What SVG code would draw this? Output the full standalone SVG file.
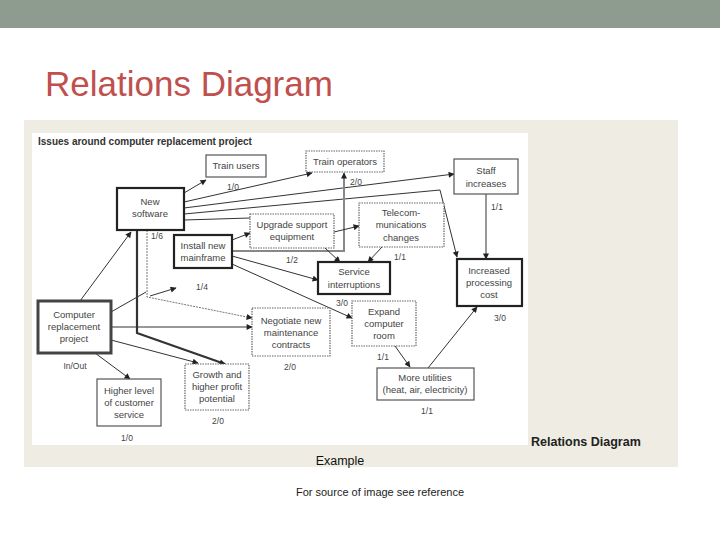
<svg xmlns="http://www.w3.org/2000/svg" width="720" height="540" viewBox="0 0 720 540">
<defs>
<marker id="a" viewBox="0 0 10 10" refX="9" refY="5" markerWidth="8" markerHeight="6" markerUnits="userSpaceOnUse" orient="auto"><path d="M0,0L10,5L0,10z" fill="#222"/></marker>
<style>
.b{fill:#fff;stroke:#555;stroke-width:1.2}
.k{fill:#fff;stroke:#222;stroke-width:2.2}
.d{fill:#fff;stroke:#666;stroke-width:1.2;stroke-dasharray:1.5 1}
.n{font-family:"Liberation Sans",Arial,sans-serif;font-size:9.5px;fill:#444;text-anchor:middle}
.l{font-family:"Liberation Sans",Arial,sans-serif;font-size:8.5px;fill:#444;text-anchor:middle}
.c line,.c polyline{stroke:#333;stroke-width:1;fill:none;marker-end:url(#a)}
</style>
</defs>
<rect width="720" height="540" fill="#fff"/>
<rect width="720" height="28" fill="#8d9c8f"/>
<text x="45" y="96" font-size="35" fill="#c0504d" font-family="Liberation Sans,Arial,sans-serif">Relations Diagram</text>
<rect x="24" y="120" width="654" height="347" fill="#efede3"/>
<rect x="32" y="133" width="496" height="312" fill="#fff"/>
<text x="38" y="145" font-size="10" font-weight="bold" fill="#333" font-family="Liberation Sans,Arial,sans-serif">Issues around computer replacement project</text>
<g class="c">
<line x1="184" y1="193" x2="206" y2="180"/>
<line x1="184" y1="202" x2="312" y2="173"/>
<line x1="184" y1="208" x2="454" y2="174"/>
<polyline points="184,214 440,190 457,257"/>
<line x1="184" y1="220" x2="250" y2="218" style="marker-end:none"/>
<line x1="80" y1="301" x2="131" y2="232"/>
<polyline points="137,230 137,333 225,364" style="stroke-width:2.2"/>
<polyline points="147,230 147,297 252,318" style="stroke:#777;stroke-dasharray:2 1"/>
<line x1="150" y1="296" x2="176" y2="288"/>
<line x1="232" y1="240" x2="250" y2="233"/>
<line x1="232" y1="256" x2="318" y2="280"/>
<line x1="232" y1="264" x2="352" y2="318"/>
<polyline points="232,251 344,251 344,173" style="stroke:#888;stroke-width:2"/>
<line x1="325" y1="248" x2="340" y2="262"/>
<line x1="334" y1="232" x2="359" y2="226"/>
<line x1="382" y1="247" x2="368" y2="262"/>
<line x1="486" y1="194" x2="486" y2="259"/>
<line x1="428" y1="368" x2="477" y2="307"/>
<line x1="395" y1="346" x2="410" y2="367"/>
<line x1="111" y1="327" x2="252" y2="327"/>
<line x1="111" y1="340" x2="198" y2="363"/>
<line x1="95" y1="353" x2="130" y2="379"/>
<line x1="111" y1="312" x2="146" y2="292" style="marker-end:none"/>
</g>
<g id="train-users"><rect class="b" x="206" y="155" width="60" height="22"/><text class="n" x="236" y="169">Train users</text></g>
<g id="train-operators"><rect class="d" x="306" y="151" width="78" height="21"/><text class="n" x="345" y="165">Train operators</text></g>
<g id="staff"><rect class="b" x="454" y="159" width="64" height="35"/><text class="n" x="486" y="174">Staff</text><text class="n" x="486" y="187">increases</text></g>
<g id="new-software"><rect class="k" x="117" y="188" width="67" height="42"/><text class="n" x="150" y="205">New</text><text class="n" x="150" y="217">software</text></g>
<g id="upgrade"><rect class="d" x="250" y="214" width="84" height="34"/><text class="n" x="292" y="228">Upgrade support</text><text class="n" x="292" y="240">equipment</text></g>
<g id="telecom"><rect class="d" x="359" y="203" width="85" height="44"/><text class="n" x="401" y="216">Telecom-</text><text class="n" x="401" y="228">munications</text><text class="n" x="401" y="241">changes</text></g>
<g id="mainframe"><rect class="k" x="174" y="235" width="58" height="33"/><text class="n" x="203" y="249">Install new</text><text class="n" x="203" y="261">mainframe</text></g>
<g id="service"><rect class="k" x="318" y="262" width="72" height="32"/><text class="n" x="354" y="275">Service</text><text class="n" x="354" y="288">interruptions</text></g>
<g id="cost"><rect class="k" x="457" y="259" width="65" height="47"/><text class="n" x="489" y="274">Increased</text><text class="n" x="489" y="286">processing</text><text class="n" x="489" y="298">cost</text></g>
<g id="crp"><rect x="38" y="301" width="73" height="52" fill="#fff" stroke="#444" stroke-width="3"/><rect x="40.5" y="303.5" width="68" height="47" fill="none" stroke="#fff" stroke-width="1"/><text class="n" x="74" y="318">Computer</text><text class="n" x="74" y="330">replacement</text><text class="n" x="74" y="342">project</text></g>
<g id="negotiate"><rect class="d" x="252" y="308" width="78" height="48"/><text class="n" x="291" y="324">Negotiate new</text><text class="n" x="291" y="336">maintenance</text><text class="n" x="291" y="348">contracts</text></g>
<g id="expand"><rect class="d" x="352" y="301" width="64" height="45"/><text class="n" x="384" y="315">Expand</text><text class="n" x="384" y="327">computer</text><text class="n" x="384" y="339">room</text></g>
<g id="growth"><rect class="d" x="185" y="364" width="64" height="46"/><text class="n" x="217" y="378">Growth and</text><text class="n" x="217" y="390">higher profit</text><text class="n" x="217" y="402">potential</text></g>
<g id="higher"><rect class="b" x="97" y="379" width="64" height="47"/><text class="n" x="129" y="394">Higher level</text><text class="n" x="129" y="406">of customer</text><text class="n" x="129" y="418">service</text></g>
<g id="utilities"><rect class="b" x="377" y="368" width="97" height="32"/><text class="n" x="425" y="381">More utilities</text><text class="n" x="425" y="393">(heat, air, electricity)</text></g>
<g id="labels">
<text class="l" x="233" y="190">1/0</text><text class="l" x="356" y="185">2/0</text><text class="l" x="497" y="210">1/1</text>
<text class="l" x="157" y="239">1/6</text><text class="l" x="292" y="263">1/2</text><text class="l" x="400" y="260">1/1</text>
<text class="l" x="202" y="290">1/4</text><text class="l" x="342" y="306">3/0</text><text class="l" x="500" y="321">3/0</text>
<text class="l" x="75" y="369">In/Out</text><text class="l" x="290" y="370">2/0</text><text class="l" x="383" y="360">1/1</text>
<text class="l" x="127" y="441">1/0</text><text class="l" x="218" y="424">2/0</text><text class="l" x="427" y="414">1/1</text>
</g>
<text x="531" y="446" font-size="12.5" font-weight="bold" fill="#222" font-family="Liberation Sans,Arial,sans-serif">Relations Diagram</text>
<text x="340" y="465" font-size="12.5" text-anchor="middle" fill="#111" font-family="Liberation Sans,Arial,sans-serif">Example</text>
<text x="380" y="496" font-size="11" text-anchor="middle" fill="#222" font-family="Liberation Sans,Arial,sans-serif">For source of image see reference</text>
</svg>
